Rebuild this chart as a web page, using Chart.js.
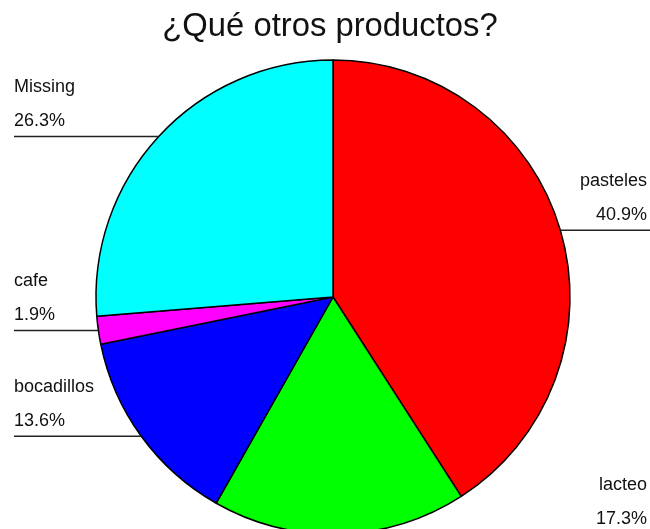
<!DOCTYPE html>
<html>
<head>
<meta charset="utf-8">
<title>¿Qué otros productos?</title>
<script src="https://cdn.jsdelivr.net/npm/chart.js@4/dist/chart.umd.min.js"></script>
<style>
  html, body { margin: 0; padding: 0; background: #fff; overflow: hidden; }
  #wrap { width: 650px; height: 529px; overflow: hidden; }
</style>
</head>
<body>
<div id="wrap"><canvas id="pie" width="650" height="600"></canvas></div>
<script>
'use strict';

const TITLE = '¿Qué otros productos?';
const categories = ['pasteles', 'lacteo', 'bocadillos', 'cafe', 'Missing'];
const percents   = [40.9, 17.3, 13.6, 1.9, 26.3];
const colours    = ['#ff0000', '#00ff00', '#0000ff', '#ff00ff', '#00ffff'];

const FONT = '"Liberation Sans", Arial, Helvetica, sans-serif';

// title plus outside labels with their leader lines
const sliceLabels = {
  id: 'sliceLabels',
  afterDatasetsDraw(chart) {
    const ctx = chart.ctx;
    const W = chart.width;
    ctx.save();
    ctx.fillStyle = '#111';
    ctx.font = '32.8px ' + FONT;
    ctx.textAlign = 'center';
    ctx.textBaseline = 'alphabetic';
    ctx.fillText(TITLE, 330, 36);

    ctx.font = '18px ' + FONT;
    ctx.strokeStyle = '#222';
    ctx.lineWidth = 1.5;
    chart.getDatasetMeta(0).data.forEach((arc, i) => {
      const mid = (arc.startAngle + arc.endAngle) / 2;
      const px = arc.x + Math.cos(mid) * arc.outerRadius;
      const py = arc.y + Math.sin(mid) * arc.outerRadius;
      const left = px < arc.x;
      ctx.beginPath();
      if (left) { ctx.moveTo(14, py); ctx.lineTo(px, py); }
      else      { ctx.moveTo(px, py); ctx.lineTo(W, py); }
      ctx.stroke();
      ctx.textAlign = left ? 'left' : 'right';
      const tx = left ? 14 : 647;
      ctx.fillText(percents[i].toFixed(1) + '%', tx, py - 10);
      ctx.fillText(categories[i], tx, py - 44);
    });
    ctx.restore();
  }
};

new Chart(document.getElementById('pie').getContext('2d'), {
  type: 'pie',
  data: {
    labels: categories,
    datasets: [{
      data: percents,
      backgroundColor: colours,
      borderColor: '#000',
      borderWidth: 1.5
    }]
  },
  options: {
    responsive: false,
    animation: false,
    devicePixelRatio: 1,
    radius: 237,
    layout: { padding: { left: 16, right: 0, top: 60, bottom: 66 } },
    plugins: { legend: { display: false }, tooltip: { enabled: false }, title: { display: false } }
  },
  plugins: [sliceLabels]
});
</script>
</body>
</html>
